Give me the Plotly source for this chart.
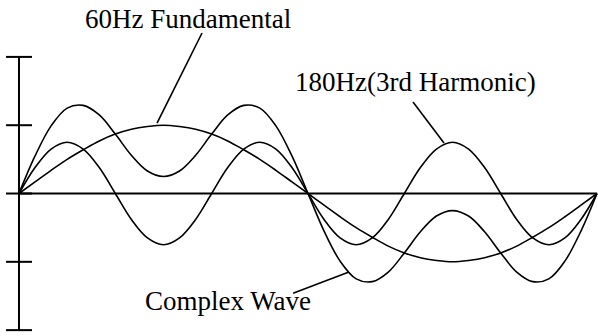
import plotly.graph_objects as go

# phase angle in degrees, one cycle of the 60Hz wave
angle = list(range(0, 361, 10))

fundamental = [0, 0.17, 0.34, 0.5, 0.64, 0.77, 0.87, 0.94, 0.98, 1.0,
               0.98, 0.94, 0.87, 0.77, 0.64, 0.5, 0.34, 0.17, 0,
               -0.17, -0.34, -0.5, -0.64, -0.77, -0.87, -0.94, -0.98, -1.0,
               -0.98, -0.94, -0.87, -0.77, -0.64, -0.5, -0.34, -0.17, 0]

harmonic3 = [0, 0.38, 0.65, 0.75, 0.65, 0.38, 0, -0.38, -0.65, -0.75,
             -0.65, -0.38, 0, 0.38, 0.65, 0.75, 0.65, 0.38, 0,
             -0.38, -0.65, -0.75, -0.65, -0.38, 0, 0.38, 0.65, 0.75,
             0.65, 0.38, 0, -0.38, -0.65, -0.75, -0.65, -0.38, 0]

complex_wave = [0, 0.55, 0.99, 1.25, 1.29, 1.15, 0.87, 0.56, 0.33, 0.25,
                0.33, 0.56, 0.87, 1.15, 1.29, 1.25, 0.99, 0.55, 0,
                -0.55, -0.99, -1.25, -1.29, -1.15, -0.87, -0.56, -0.33, -0.25,
                -0.33, -0.56, -0.87, -1.15, -1.29, -1.25, -0.99, -0.55, 0]

y_ticks = [-2, -1, 0, 1, 2]

# label text, label centre (x, y), leader line start and end
labels = [
    ("60Hz Fundamental", 105.3, 2.56, (114.0, 2.35), (86.0, 1.03)),
    ("180Hz(3rd Harmonic)", 247.0, 1.63, (245.4, 1.34), (264.7, 0.74)),
    ("Complex Wave", 129.9, -1.57, (170.7, -1.46), (205.5, -1.15)),
]

SERIF = "Liberation Serif"

fig = go.Figure()
for series in (fundamental, harmonic3, complex_wave):
    fig.add_trace(go.Scatter(
        x=angle, y=series, mode="lines",
        line=dict(color="black", width=1.6, shape="spline", smoothing=1.0),
        hoverinfo="skip", showlegend=False,
    ))

axis_line = dict(color="black", width=2)
shapes = [
    dict(type="line", x0=0, x1=360, y0=0, y1=0, line=axis_line),
    dict(type="line", x0=0, x1=0, y0=-2, y1=2, line=axis_line),
]
for t in y_ticks:
    shapes.append(dict(type="line", x0=-8.1, x1=8.1, y0=t, y1=t, line=axis_line))

annotations = []
for text, tx, ty, (lx0, ly0), (lx1, ly1) in labels:
    annotations.append(dict(
        x=tx, y=ty, text=text, showarrow=False,
        xanchor="center", yanchor="middle",
        font=dict(family=SERIF, size=27, color="black"),
    ))
    shapes.append(dict(type="line", x0=lx0, y0=ly0, x1=lx1, y1=ly1,
                       line=dict(color="black", width=1.6)))

fig.update_layout(
    width=598, height=336,
    margin=dict(l=0, r=0, t=0, b=0),
    paper_bgcolor="white", plot_bgcolor="white",
    font=dict(family=SERIF),
    xaxis=dict(range=[-11.83, 360.62], visible=False, fixedrange=True),
    yaxis=dict(range=[-2.086, 2.833], visible=False, fixedrange=True),
    shapes=shapes, annotations=annotations,
)

# drop the default page margin so the figure fills the window
fig.write_html(
    "out.html",
    config={"displayModeBar": False, "staticPlot": True},
    post_script="document.body.style.margin = '0';",
)
